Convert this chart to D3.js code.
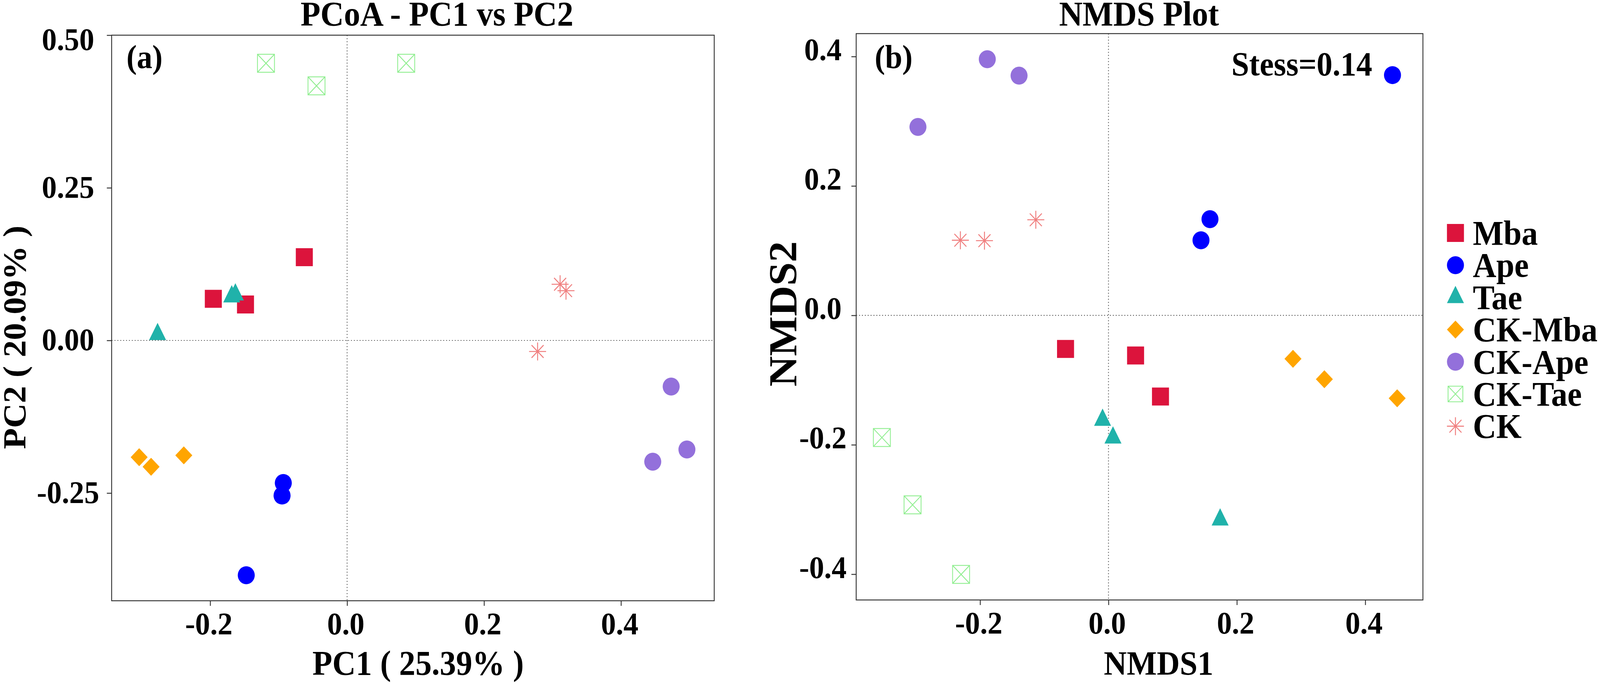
<!DOCTYPE html>
<html>
<head>
<meta charset="utf-8">
<script src="https://cdn.jsdelivr.net/npm/d3@7/dist/d3.min.js"></script>
<style>
  html, body { margin: 0; padding: 0; background: #fff; overflow: hidden; }
  #svg-container { width: 100vw; height: 100vh; }
  svg { display: block; }
  text { font-family: "Liberation Serif", "Times New Roman", serif; font-weight: bold; fill: #000; }
</style>
</head>
<body>
<div id="svg-container"></div>
<script>
// groups, colours and symbols (legend order)
var groups = ["Mba", "Ape", "Tae", "CK-Mba", "CK-Ape", "CK-Tae", "CK"];
var groupColors = ["#DC143C", "#0000FF", "#20B2AA", "#FFA500", "#9370DB", "#90EE90", "#F08080"];
var groupShapes = ["square", "circle", "triangle", "diamond", "circle", "boxx", "asterisk"];

// PCoA scores [PC1, PC2]
var pcoaMba   = [[-0.1954, 0.0681], [-0.1484, 0.0589], [-0.0625, 0.1364]];
var pcoaApe   = [[-0.0932, -0.2335], [-0.0950, -0.2541], [-0.1473, -0.3846]];
var pcoaTae   = [[-0.2768, 0.0100], [-0.1685, 0.0717], [-0.1632, 0.0749]];
var pcoaCKMba = [[-0.3037, -0.1912], [-0.2863, -0.2070], [-0.2385, -0.1883]];
var pcoaCKApe = [[0.4733, -0.0755], [0.4963, -0.1787], [0.4464, -0.1986]];
var pcoaCKTae = [[-0.1185, 0.4540], [-0.0447, 0.4170], [0.0863, 0.4540]];
var pcoaCK    = [[0.3111, 0.0920], [0.3197, 0.0815], [0.2782, -0.0181]];

// NMDS scores [NMDS1, NMDS2]
var nmdsMba   = [[-0.0669, -0.0519], [0.0422, -0.0620], [0.0810, -0.1254]];
var nmdsApe   = [[0.4424, 0.3713], [0.1581, 0.1487], [0.1441, 0.1161]];
var nmdsTae   = [[-0.0092, -0.1618], [0.0070, -0.1891], [0.1739, -0.3158]];
var nmdsCKMba = [[0.2874, -0.0672], [0.3363, -0.0987], [0.4497, -0.1281]];
var nmdsCKApe = [[-0.1888, 0.3959], [-0.1393, 0.3705], [-0.2968, 0.2912]];
var nmdsCKTae = [[-0.3530, -0.1888], [-0.3052, -0.2928], [-0.2296, -0.4003]];
var nmdsCK    = [[-0.2307, 0.1161], [-0.1932, 0.1154], [-0.1132, 0.1477]];

// axis limits and ticks
var pcoaXLim = [-0.3439, 0.5362];
var pcoaYLim = [-0.4264, 0.5];
var pcoaXTicks = [-0.2, 0.0, 0.2, 0.4];
var pcoaYTicks = [0.50, 0.25, 0.00, -0.25];
var nmdsXLim = [-0.3930, 0.4898];
var nmdsYLim = [-0.4398, 0.4354];
var nmdsXTicks = [-0.2, 0.0, 0.2, 0.4];
var nmdsYTicks = [0.4, 0.2, 0.0, -0.2, -0.4];

var width = 4328, height = 1750;

// drawn in a fixed 4328x1750 space, stretched to whatever the window is
var svg = d3.select("#svg-container")
            .append("svg")
            .attr("viewBox", "0 0 " + width + " " + height)
            .attr("preserveAspectRatio", "none")
            .style("width", "100%")
            .style("height", "100%");

svg.append("rect").attr("width", width).attr("height", height).attr("fill", "#fff");

function shapePath(shape, s) {
  var h = s / 2;
  if (shape == "square") return "M" + (-h) + "," + (-h) + "h" + s + "v" + s + "h" + (-s) + "Z";
  if (shape == "circle") return "M" + (-h) + ",0a" + h + "," + h + " 0 1,0 " + s + ",0a" + h + "," + h + " 0 1,0 " + (-s) + ",0Z";
  if (shape == "triangle") return "M0," + (-s * 0.64) + "L" + h + "," + (s * 0.32) + "L" + (-h) + "," + (s * 0.32) + "Z";
  if (shape == "diamond") return "M0," + (-h) + "L" + h + ",0L0," + h + "L" + (-h) + ",0Z";
  if (shape == "boxx") return "M" + (-h) + "," + (-h) + "h" + s + "v" + s + "h" + (-s) + "Z" +
                              "M" + (-h) + "," + (-h) + "L" + h + "," + h + "M" + h + "," + (-h) + "L" + (-h) + "," + h;
  if (shape == "asterisk") {
    var d = h / Math.SQRT2;
    return "M" + (-h) + ",0H" + h + "M0," + (-h) + "V" + h +
           "M" + (-d) + "," + (-d) + "L" + d + "," + d + "M" + d + "," + (-d) + "L" + (-d) + "," + d;
  }
}

function drawMark(g, shape, color, s) {
  var open = (shape == "boxx" || shape == "asterisk");
  g.append("path")
   .attr("d", shapePath(shape, s))
   .attr("fill", open ? "none" : color)
   .attr("stroke", open ? color : "none")
   .attr("stroke-width", shape == "asterisk" ? 2.6 : 2.2);
}

function drawPanel(p) {
  var scaleX = d3.scaleLinear().domain(p.xLim).range([p.left, p.right]);
  var scaleY = d3.scaleLinear().domain(p.yLim).range([p.bottom, p.top]);

  // zero reference lines
  svg.append("line")
     .attr("x1", p.left).attr("x2", p.right)
     .attr("y1", scaleY(0)).attr("y2", scaleY(0))
     .attr("stroke", "#555").attr("stroke-width", 2.2).attr("stroke-dasharray", "2.5,5.3");
  svg.append("line")
     .attr("x1", scaleX(0)).attr("x2", scaleX(0))
     .attr("y1", p.top).attr("y2", p.bottom)
     .attr("stroke", "#555").attr("stroke-width", 2.2).attr("stroke-dasharray", "2.5,5.3");

  // points
  p.series.forEach(function(pts, i) {
    svg.append("g")
       .selectAll("g")
       .data(pts)
       .enter()
       .append("g")
       .attr("transform", function(d) { return "translate(" + scaleX(d[0]) + "," + scaleY(d[1]) + ")"; })
       .each(function() { drawMark(d3.select(this), groupShapes[i], groupColors[i], 46); });
  });

  // frame
  svg.append("rect")
     .attr("x", p.left).attr("y", p.top)
     .attr("width", p.right - p.left).attr("height", p.bottom - p.top)
     .attr("fill", "none").attr("stroke", "#333").attr("stroke-width", 2.4);

  var xAx = svg.append("g")
     .attr("transform", "translate(0," + p.bottom + ")")
     .call(d3.axisBottom(scaleX).tickValues(p.xTicks).tickSize(13).tickPadding(0));
  xAx.select(".domain").remove();
  xAx.selectAll("line").attr("stroke", "#333").attr("stroke-width", 2.4);
  xAx.selectAll("text")
     .attr("y", 86).attr("dy", 0)
     .attr("dx", p.xLabelDx)
     .style("font-size", "81px").style("font-family", "Liberation Serif").style("font-weight", "bold")
     .attr("fill", "#000")
     .text(function(d) { return d3.format(".1f")(d).replace("−", "-"); });

  var yAx = svg.append("g")
     .attr("transform", "translate(" + p.left + ",0)")
     .call(d3.axisLeft(scaleY).tickValues(p.yTicks).tickSize(13).tickPadding(0));
  yAx.select(".domain").remove();
  yAx.selectAll("line").attr("stroke", "#333").attr("stroke-width", 2.4);
  yAx.selectAll("text")
     .attr("x", p.yLabelX - p.left)
     .attr("y", function(d) { return Math.max(p.yLabelBase, p.top + p.yTopBase - scaleY(d)); })
     .attr("dy", 0)
     .attr("text-anchor", "middle")
     .style("font-size", "81px").style("font-family", "Liberation Serif").style("font-weight", "bold")
     .attr("fill", "#000")
     .text(function(d) { return d3.format(p.yFormat)(d).replace("−", "-"); });

  // titles and labels
  svg.append("text")
     .attr("x", p.titleX).attr("y", 65)
     .attr("text-anchor", "middle")
     .style("font-size", "88px")
     .text(p.title);

  svg.append("text")
     .attr("x", p.xTitleX).attr("y", 1726)
     .attr("text-anchor", "middle")
     .style("font-size", p.xTitleSize + "px")
     .text(p.xTitle);

  svg.append("text")
     .attr("transform", "translate(" + p.yTitleX + "," + p.yTitleY + ") rotate(-90)")
     .attr("text-anchor", "middle")
     .style("font-size", p.yTitleSize + "px")
     .text(p.yTitle);

  svg.append("text")
     .attr("x", p.tagX).attr("y", 174)
     .style("font-size", "84px")
     .text(p.tag);

  return { x: scaleX, y: scaleY };
}

drawPanel({
  left: 302, right: 1932, top: 90, bottom: 1537,
  xLim: pcoaXLim, yLim: pcoaYLim, xTicks: pcoaXTicks, yTicks: pcoaYTicks,
  series: [pcoaMba, pcoaApe, pcoaTae, pcoaCKMba, pcoaCKApe, pcoaCKTae, pcoaCK],
  xLabelDx: -4, yLabelX: 184, yLabelBase: 25, yTopBase: 37, yFormat: ".2f",
  title: "PCoA - PC1 vs PC2", titleX: 1182,
  xTitle: "PC1 ( 25.39% )", xTitleX: 1131, xTitleSize: 88,
  yTitle: "PC2 ( 20.09% )", yTitleX: 69, yTitleY: 863, yTitleSize: 88,
  tag: "(a)", tagX: 342
});

drawPanel({
  left: 2316, right: 3849, top: 86, bottom: 1535,
  xLim: nmdsXLim, yLim: nmdsYLim, xTicks: nmdsXTicks, yTicks: nmdsYTicks,
  series: [nmdsMba, nmdsApe, nmdsTae, nmdsCKMba, nmdsCKApe, nmdsCKTae, nmdsCK],
  xLabelDx: -4, yLabelX: 2226, yLabelBase: 9, yTopBase: -1000, yFormat: ".1f",
  title: "NMDS Plot", titleX: 3081,
  xTitle: "NMDS1", xTitleX: 3134, xTitleSize: 86,
  yTitle: "NMDS2", yTitleX: 2155, yTitleY: 803, yTitleSize: 108,
  tag: "(b)", tagX: 2366
});

svg.append("text")
   .attr("x", 3712).attr("y", 193)
   .attr("text-anchor", "end")
   .style("font-size", "86px")
   .text("Stess=0.14");

// legend
var legend = svg.append("g")
                .attr("class", "legend")
                .selectAll("g")
                .data(groups)
                .enter()
                .append("g")
                .attr("transform", function(d, i) { return "translate(3937," + (596 + i * 82.4) + ")"; });

legend.each(function(d, i) {
  drawMark(d3.select(this), groupShapes[i], groupColors[i], groupShapes[i] == "boxx" ? 40 : 46);
});

legend.append("text")
      .attr("x", 47)
      .attr("y", 30)
      .style("font-size", "88px")
      .text(function(d) { return d; });
</script>
</body>
</html>
